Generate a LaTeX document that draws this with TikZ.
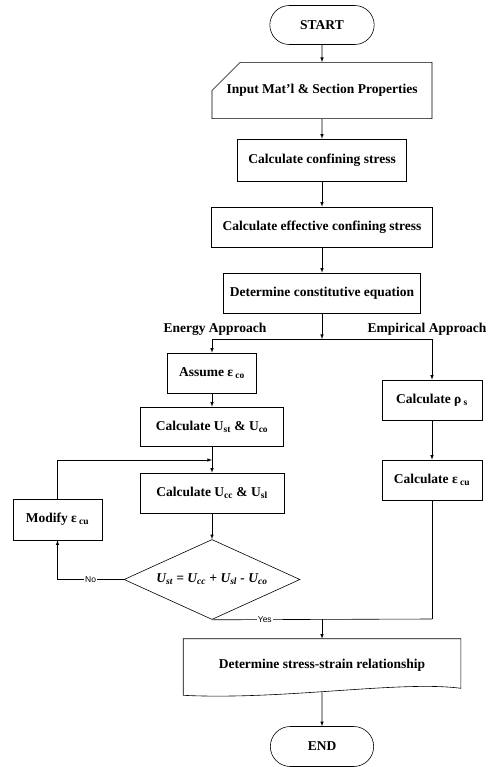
\documentclass[tikz,border=0pt]{standalone}
\usepackage{fontspec}
\setmainfont{Liberation Serif}
\newfontfamily\arialfont{Liberation Sans}
\usetikzlibrary{shapes.misc,shapes.geometric}

\begin{document}
\begin{tikzpicture}[x=1pt,y=-1pt,line width=0.6pt,
    every node/.style={font=\fontsize{13.5}{15}\selectfont\bfseries},
    box/.style={draw,rectangle,inner sep=2pt,minimum height=40pt},
    term/.style={draw,rounded rectangle,minimum width=111pt,minimum height=39pt},
    arr/.style={-latex},
    lbl/.style={fill=white,inner sep=1pt,font=\arialfont\fontsize{8.5}{9}\selectfont}]
    \useasboundingbox (0,0) rectangle (501,767);

    % main column
    \node[term] (start) at (322,25) {START};
    \node[draw,chamfered rectangle,chamfered rectangle corners=north west,
          chamfered rectangle xsep=20pt,chamfered rectangle ysep=20pt,
          minimum width=220pt,minimum height=35pt,inner sep=2pt] (input) at (322,90.5) {Input Mat'l \& Section Properties};
    \node[box,minimum width=169pt,minimum height=42pt] (conf) at (322,160) {Calculate confining stress};
    \node[box,minimum width=221pt] (eff) at (322,227) {Calculate effective confining stress};
    \node[box,minimum width=197pt] (const) at (322,293) {Determine constitutive equation};

    \node (energy) at (215,329) {Energy Approach};
    \node (empir) at (427,329) {Empirical Approach};

    % energy approach
    \node[box,minimum width=89pt] (assume) at (212,373) {Assume ε\,\textsubscript{co}};
    \node[box,minimum width=143pt,minimum height=39pt] (ust) at (212,426.5) {Calculate U\textsubscript{st} \& U\textsubscript{co}};
    \node[box,minimum width=144pt] (ucc) at (212,493) {Calculate U\textsubscript{cc} \& U\textsubscript{sl}};
    \node[box,minimum width=89pt,minimum height=41pt] (modify) at (57.5,519.5) {Modify ε\,\textsubscript{cu}};
    \node[draw,diamond,aspect=2.2,minimum width=176pt,minimum height=80pt,inner sep=1pt] (check) at (212,579.5)
        {\itshape U\textsubscript{st} = U\textsubscript{cc} + U\textsubscript{sl} - U\textsubscript{co}};

    % empirical approach
    \node[box,minimum width=100pt] (rho) at (432,400) {Calculate ρ\,\textsubscript{s}};
    \node[box,minimum width=100pt] (ecu) at (432,480) {Calculate ε\,\textsubscript{cu}};

    % result
    \node[minimum width=277pt,minimum height=53pt,inner sep=0pt] (stress) at (322,665.5) {Determine stress-strain relationship};
    \draw ([yshift=-3pt]stress.south west) -- (stress.north west) -- (stress.north east) -- ([yshift=4pt]stress.south east)
        .. controls +(-60,-8) and +(100,5) .. ([yshift=-3pt]stress.south west);
    \node[term,minimum width=110pt,minimum height=40pt] (end) at (322,746.5) {END};

    \coordinate (split) at (322,339);
    \coordinate (loop) at (212,460);
    \coordinate (join) at (432,619);
    \coordinate (merge) at (322,619);

    \draw[arr] (start) -- (input);
    \draw[arr] (input) -- (conf);
    \draw[arr] (conf) -- (eff);
    \draw[arr] (eff) -- (const);
    \draw[arr] (const) -- (split);
    \draw[arr] (split) -| (assume);
    \draw[arr] (split) -| (rho);
    \draw[arr] (assume) -- (ust);
    \draw[arr] (ust) -- (ucc);
    \draw[arr] (modify) |- (loop);
    \draw[arr] (ucc) -- (check);
    \draw[arr] (check.west) -| node[lbl,pos=0.25] {No} (modify);
    \draw (check.south) -- node[lbl,pos=0.24] {Yes} (join);
    \draw[arr] (rho) -- (ecu);
    \draw (ecu) -- (join);
    \draw[arr] (merge) -- (stress.north);
    \draw[arr] (stress.south) -- (end);
\end{tikzpicture}
\end{document}
